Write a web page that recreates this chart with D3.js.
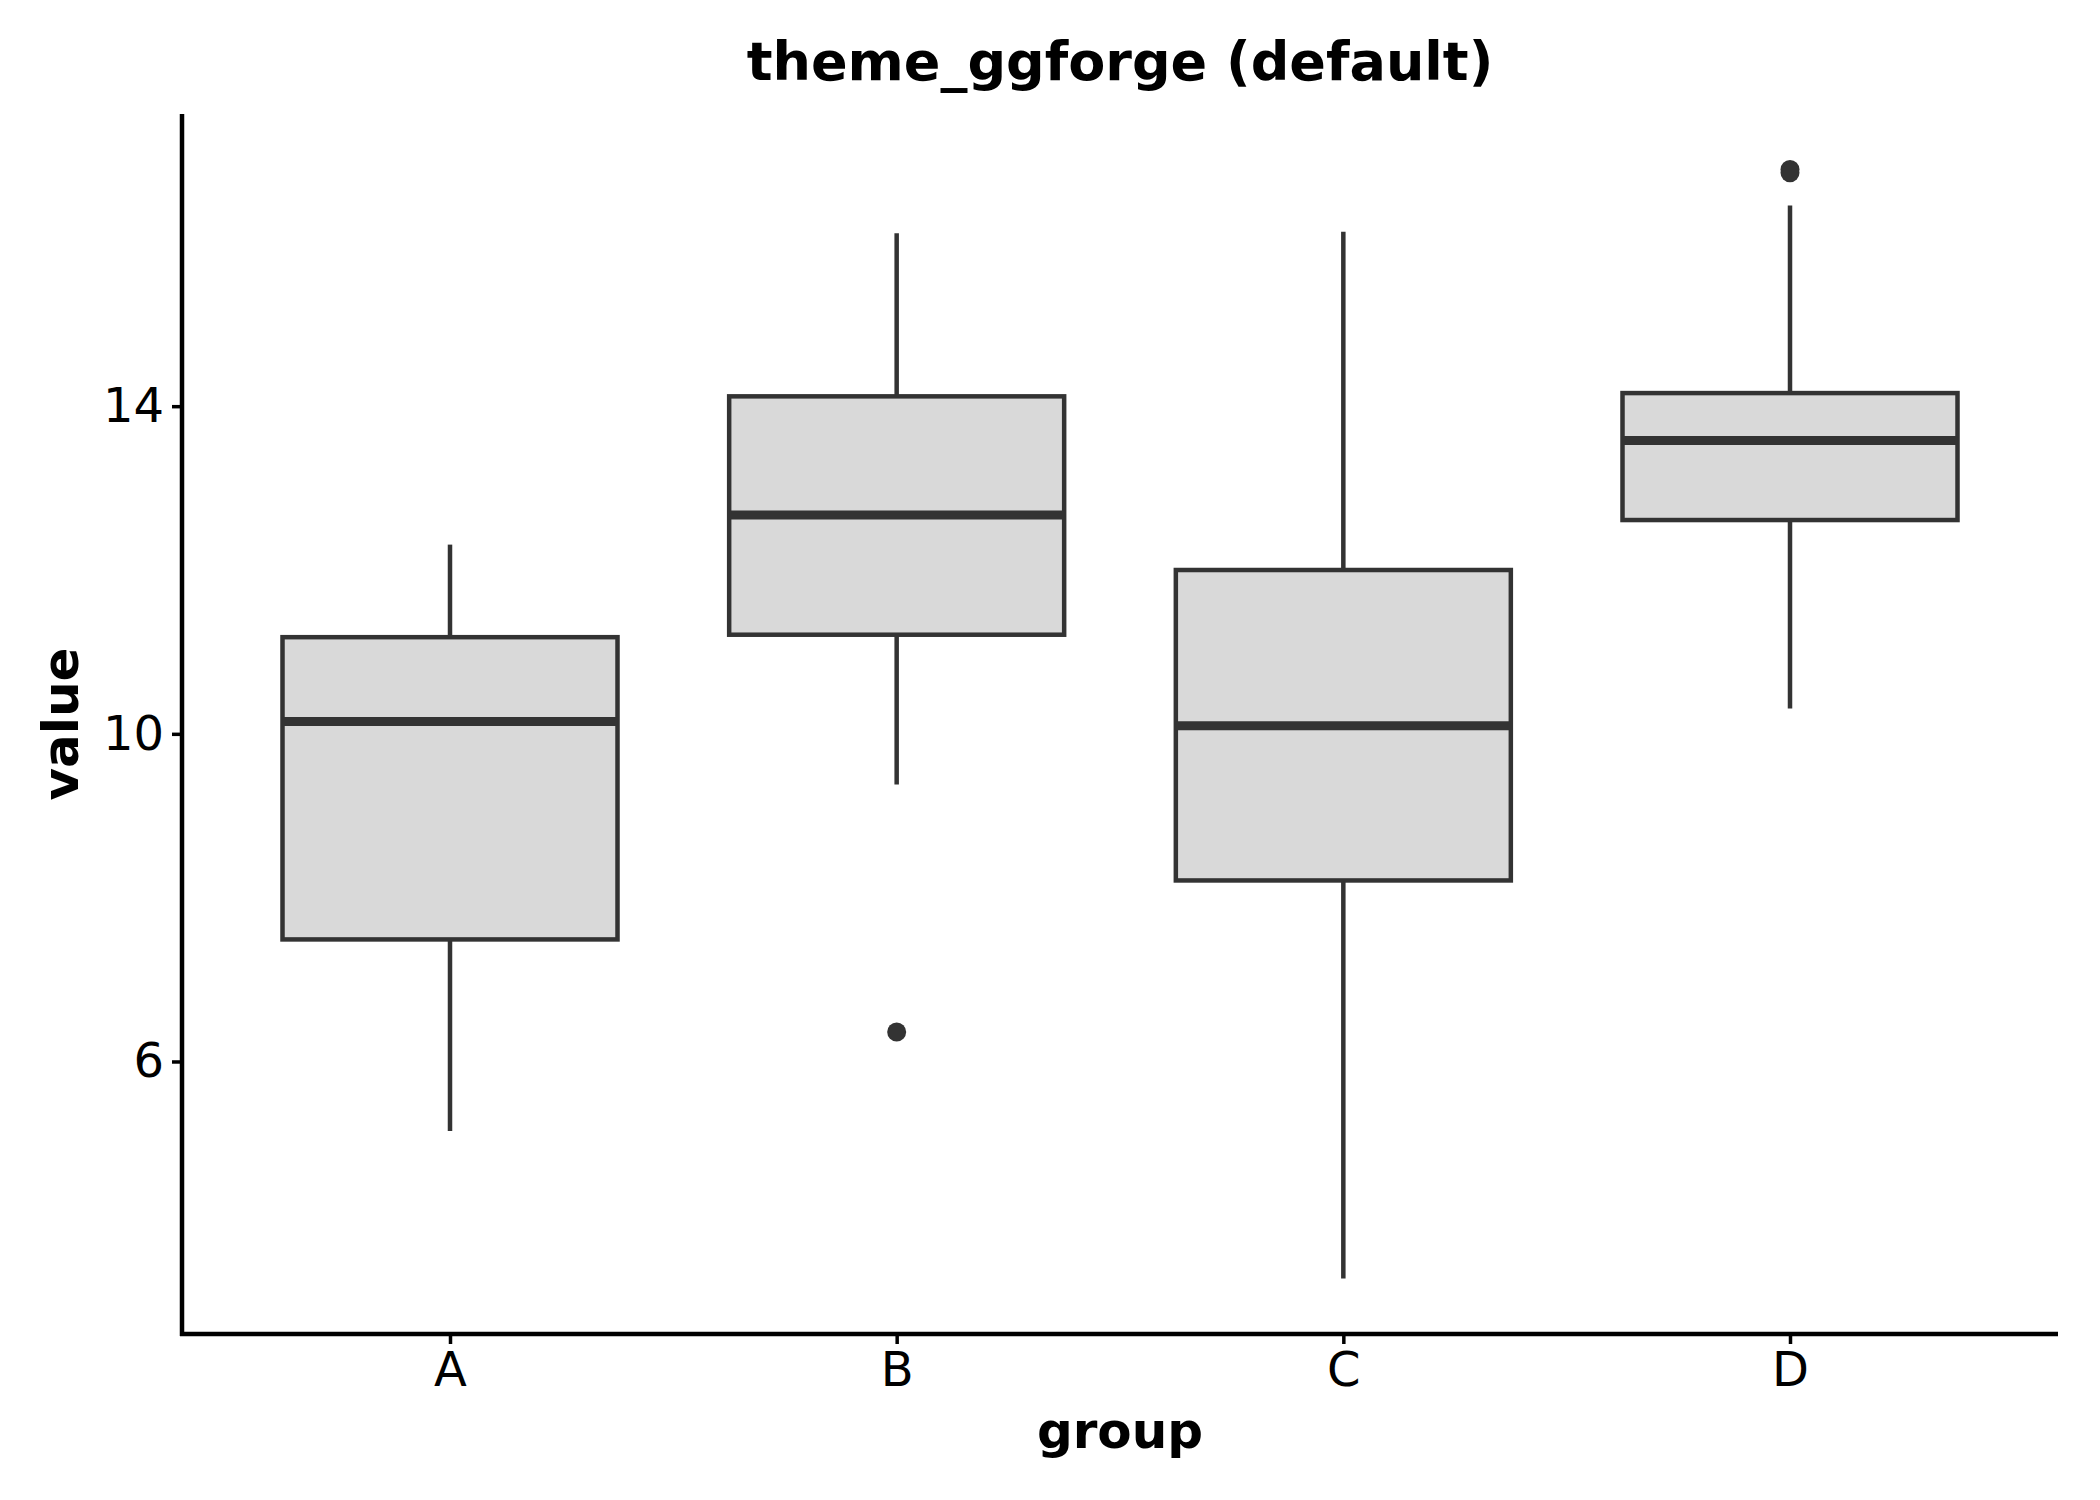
<!DOCTYPE html>
<html>
<head>
<meta charset="utf-8">
<script src="https://cdn.jsdelivr.net/npm/d3@7"></script>
<style>
  body { margin: 0; background: #fff; }
  text { font-family: "DejaVu Sans", sans-serif; }
</style>
</head>
<body>
<div id="chart"></div>
<script>
// box stats
const groups = ["A", "B", "C", "D"];
const lowerWhisker = [5.15, 9.38, 3.35, 10.31];
const q1 = [7.49, 11.21, 8.21, 12.61];
const median = [10.15, 12.67, 10.10, 13.58];
const q3 = [11.18, 14.12, 12.00, 14.16];
const upperWhisker = [12.31, 16.11, 16.13, 16.45];
const outliers = [[], [6.36], [], [16.89, 16.85]];
const yTicks = [6, 10, 14];

const W = 2100, H = 1500;
const plotLeft = 182, plotRight = 2058, plotTop = 114, plotBottom = 1334;

const svg = d3.select("#chart").append("svg")
  .attr("width", W)
  .attr("height", H);

const allVals = [...lowerWhisker, ...upperWhisker, ...outliers.flat()];
const lo = d3.min(allVals), hi = d3.max(allVals);
const pad = (hi - lo) * 0.05;

const y = d3.scaleLinear()
  .domain([lo - pad, hi + pad])
  .range([plotBottom, plotTop]);

const x = d3.scalePoint()
  .domain(groups)
  .range([plotLeft, plotRight])
  .padding(0.6);

const boxW = x.step() * 0.75;
const ink = "#333333";

const data = groups.map((g, i) => ({
  g, lw: lowerWhisker[i], q1: q1[i], med: median[i], q3: q3[i], uw: upperWhisker[i], out: outliers[i]
}));

const boxes = svg.append("g").selectAll("g")
  .data(data)
  .enter().append("g");

// whiskers
boxes.append("line")
  .attr("x1", d => x(d.g)).attr("x2", d => x(d.g))
  .attr("y1", d => y(d.uw)).attr("y2", d => y(d.q3))
  .attr("stroke", ink).attr("stroke-width", 4.5);
boxes.append("line")
  .attr("x1", d => x(d.g)).attr("x2", d => x(d.g))
  .attr("y1", d => y(d.q1)).attr("y2", d => y(d.lw))
  .attr("stroke", ink).attr("stroke-width", 4.5);

boxes.append("rect")
  .attr("x", d => x(d.g) - boxW / 2)
  .attr("width", boxW)
  .attr("y", d => y(d.q3))
  .attr("height", d => y(d.q1) - y(d.q3))
  .attr("fill", "#d9d9d9")
  .attr("stroke", ink)
  .attr("stroke-width", 4.5);

boxes.append("line")
  .attr("x1", d => x(d.g) - boxW / 2).attr("x2", d => x(d.g) + boxW / 2)
  .attr("y1", d => y(d.med)).attr("y2", d => y(d.med))
  .attr("stroke", ink).attr("stroke-width", 9);

boxes.selectAll("circle")
  .data(d => d.out.map(v => ({ g: d.g, v })))
  .enter().append("circle")
  .attr("cx", d => x(d.g))
  .attr("cy", d => y(d.v))
  .attr("r", 9.5)
  .attr("fill", ink);

// axes
const yAxis = svg.append("g")
  .attr("transform", `translate(${plotLeft},0)`)
  .call(d3.axisLeft(y).tickValues(yTicks).tickSize(10).tickPadding(8).tickSizeOuter(0));
const xAxis = svg.append("g")
  .attr("transform", `translate(0,${plotBottom})`)
  .call(d3.axisBottom(x).tickSize(10).tickPadding(8).tickSizeOuter(0));

[xAxis, yAxis].forEach(a => {
  a.select(".domain").attr("stroke", "#000").attr("stroke-width", 4.5);
  a.selectAll(".tick line").attr("stroke", "#000").attr("stroke-width", 3.5);
  a.selectAll(".tick text").attr("fill", "#000").style("font-size", "48px")
    .style("font-family", "DejaVu Sans, sans-serif");
});
// extend domain lines so they meet at the corner
xAxis.select(".domain").attr("d", `M${plotLeft - 2},0H${plotRight}`);
yAxis.select(".domain").attr("d", `M0,${plotTop}V${plotBottom + 2}`);

// titles
svg.append("text")
  .attr("x", (plotLeft + plotRight) / 2)
  .attr("y", 80)
  .attr("text-anchor", "middle")
  .style("font-size", "54px")
  .style("font-weight", "bold")
  .text("theme_ggforge (default)");

svg.append("text")
  .attr("x", (plotLeft + plotRight) / 2)
  .attr("y", 1448)
  .attr("text-anchor", "middle")
  .style("font-size", "50px")
  .style("font-weight", "bold")
  .text("group");

svg.append("text")
  .attr("transform", `translate(78,${(plotTop + plotBottom) / 2}) rotate(-90)`)
  .attr("text-anchor", "middle")
  .style("font-size", "50px")
  .style("font-weight", "bold")
  .text("value");
</script>
</body>
</html>
